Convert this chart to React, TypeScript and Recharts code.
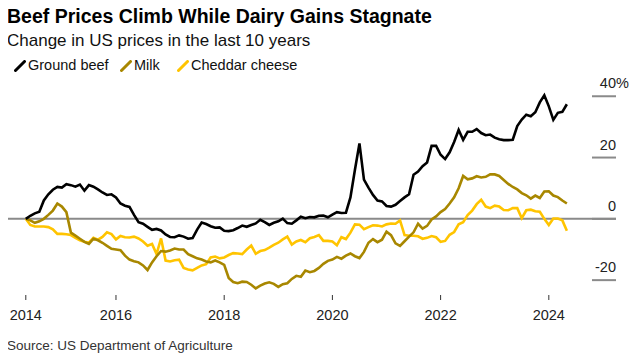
import { LineChart, Line, XAxis, YAxis, ReferenceLine } from 'recharts';

// monthly % change since May 2014 (May 2014 .. May 2024)
const groundBeef = [
  0, 1, 1.8, 2.3, 6, 8, 9.5, 10.4, 10.2, 11.3, 11, 10.5, 11.2, 9.2, 11, 10.5, 9.6, 8.6, 7.8, 8,
  7, 5, 4.3, 3.9, 1.3, -1.1, -1.6, -2.6, -3.6, -3.3, -3.8, -5.1, -5.9, -6, -5.4, -5.8, -6.5, -6.3, -3.5, -1.2,
  -1.7, -2.4, -2.9, -2.8, -3.9, -4, -3.7, -3, -2.2, -2.6, -2, -1.5, -0.3, -1.1, -2, -1.3, -0.8, 0.1, -1.4, -1.6,
  -0.5, 0.7, 0.2, 0.6, 0.5, 1, 1.1, 0.5, 1.4, 2.2, 1.9, 2, 7, 16, 24.6, 12.8, 10.2, 7.8, 6, 5.7,
  4.2, 4, 4.6, 5.8, 7, 8, 14.4, 15.4, 17.2, 18.4, 23.8, 23.8, 20.9, 19.5, 21.7, 25.1, 29, 25.8, 28.4, 28.4,
  29.3, 28, 27.3, 27.5, 26.5, 26, 25.7, 25.7, 25.8, 30.3, 32.4, 34, 33.5, 34.8, 38, 40.3, 36.7, 32.3, 34.6, 34.9,
  37.4,
];

const milk = [
  0, -0.5, -1.3, -0.8, 0, 1.3, 2.7, 5, 4, 2.2, -4.5, -5.5, -6.5, -7.5, -8.2, -6.5, -7, -7.8, -8.8, -9.8,
  -10, -10.2, -12, -13.3, -13.8, -14.2, -15.2, -16.7, -14.2, -12.2, -10.5, -10.7, -10.3, -9.7, -10, -10, -11.5, -12.2, -12.9, -13.3,
  -13.9, -14.2, -13.6, -14.2, -15, -19.3, -20.6, -21, -20.5, -20.6, -21.5, -22.7, -21.8, -21.1, -20.7, -21.2, -22.2, -21.3, -21, -19.6,
  -18.6, -18.9, -16.9, -17.4, -17, -16, -14.7, -13.7, -13.3, -12.4, -13, -12, -11.3, -12.2, -12.8, -10.8, -7.8, -6.6, -7.6, -6.8,
  -4.2, -5.3, -8, -8.8, -7.3, -5.8, -4.4, -1.6, -3.2, -2.3, -0.2, 0.8, 2.2, 3.2, 5, 7, 10, 14, 12.9, 13.2,
  13.9, 13.5, 13.7, 14.5, 14.5, 14, 12.7, 11.4, 10.4, 9.6, 8.4, 7.7, 6.6, 7.6, 6.8, 8.9, 9, 7.6, 7.1, 6,
  5,
];

const cheddarCheese = [
  0, -2, -2.5, -2.5, -2.5, -2.7, -3.4, -4.9, -4.9, -5, -5.3, -6.2, -7, -7.5, -7.8, -6.2, -6.8, -5.9, -4.4, -5,
  -6.7, -5.6, -6, -6.1, -5.8, -6.4, -7.4, -8.8, -8.2, -11.5, -6.4, -13.6, -13.9, -13.5, -13.3, -16, -16.5, -16.8, -16, -15.2,
  -14.8, -12.6, -12.3, -12.9, -12.6, -11.8, -11.2, -11.3, -11.5, -10, -8.7, -11.4, -10.5, -10.2, -9.4, -8.5, -7.8, -6.7, -5.8, -8.4,
  -7.4, -6.9, -7.6, -6.3, -5.9, -5.3, -7.2, -7.2, -7.4, -8.6, -6, -6.6, -4.5, -1.8, -1.9, -3.4, -2.7, -2.1, -2.2, -2.5,
  -1.8, -1.5, -1.6, -0.5, -5.3, -5.5, -5.5, -5.7, -6.5, -6.2, -5.6, -6, -7.5, -7.2, -5.2, -4.3, -1.8, -1.1, 1.2, 2.7,
  4.8, 6.2, 4, 3.5, 4.3, 4, 2.9, 2.8, 3.5, 3.5, 0.2, 2.8, 3, 2.5, 2.3, 0, -2, 0.1, 0.1, -0.5,
  -3.9,
];

// month index of each year tick (index 0 = May 2014)
const xTicks = [0, 20, 44, 68, 92, 116];
const xTickLabels = ['2014', '2016', '2018', '2020', '2022', '2024'];
const yTicks = [-20, 0, 20, 40];

const data = groundBeef.map((v, i) => ({
  month: i,
  beef: v,
  milk: milk[i],
  cheddar: cheddarCheese[i],
}));

const BEEF = '#000000';
const MILK = '#a88700';
const CHEDDAR = '#ffc400';

const W = 639;
const H = 361;
const margin = { top: 84, right: 23, bottom: 36, left: 7 };
const FONT = "'Liberation Sans', Arial, Helvetica, sans-serif";

function YTick(props: any) {
  const { y, payload } = props;
  const right = W - margin.right;
  const v = payload.value;
  return (
    <g>
      <line x1={right - 24} x2={right} y1={y} y2={y} stroke="#8a8a8a" strokeWidth={2} />
      <text x={right} y={y - 8} textAnchor="end" fontSize={14.5} fill="#222">
        {String(v)}
      </text>
      {v === 40 && (
        <text x={right} y={y - 8} textAnchor="start" fontSize={14.5} fill="#222">%</text>
      )}
    </g>
  );
}

function Slash({ color }: { color: string }) {
  return (
    <svg width={12} height={12} style={{ position: 'absolute', top: 0, left: 0 }}>
      <line x1={1.5} y1={10.5} x2={10.5} y2={1.5} stroke={color} strokeWidth={3} strokeLinecap="round" />
    </svg>
  );
}

const legendItems = [
  { label: 'Ground beef', color: BEEF, left: 14 },
  { label: 'Milk', color: MILK, left: 120 },
  { label: 'Cheddar cheese', color: CHEDDAR, left: 177 },
];

export default function App() {
  return (
    <div style={{ position: 'relative', width: W, height: H, margin: -8, fontFamily: FONT, background: '#fff', overflow: 'hidden' }}>
      <div style={{ position: 'absolute', left: 7, top: 7, fontSize: 19.5, lineHeight: 1, fontWeight: 700, color: '#000', whiteSpace: 'nowrap' }}>
        Beef Prices Climb While Dairy Gains Stagnate
      </div>
      <div style={{ position: 'absolute', left: 7, top: 32, fontSize: 17, lineHeight: 1, color: '#111', whiteSpace: 'nowrap' }}>
        Change in US prices in the last 10 years
      </div>
      {legendItems.map((it) => (
        <div key={it.label} style={{ position: 'absolute', left: it.left, top: 58, height: 16, whiteSpace: 'nowrap' }}>
          <div style={{ position: 'absolute', left: 0, top: 2 }}>
            <Slash color={it.color} />
          </div>
          <span style={{ position: 'absolute', left: 14, top: 0, fontSize: 14.5, lineHeight: 1, color: '#111' }}>{it.label}</span>
        </div>
      ))}

      <div style={{ position: 'absolute', left: 0, top: 0 }}>
        <LineChart width={W} height={H} data={data} margin={margin}>
          <XAxis
            dataKey="month"
            type="number"
            domain={[-4.17, 130.9]}
            allowDataOverflow
            ticks={xTicks}
            tickFormatter={(v: number) => xTickLabels[xTicks.indexOf(v)]}
            axisLine={false}
            tickLine={{ stroke: '#333', strokeWidth: 1 }}
            tickSize={5}
            tickMargin={10}
            height={30}
            tick={{ fontSize: 14.5, fill: '#222' }}
            interval={0}
          />
          <YAxis
            type="number"
            domain={[-24.85, 44]}
            allowDataOverflow
            orientation="right"
            mirror
            ticks={yTicks}
            tick={<YTick />}
            axisLine={false}
            tickLine={false}
            interval={0}
          />
          <ReferenceLine y={0} stroke="#8a8a8a" strokeWidth={2} />
          <Line type="linear" dataKey="cheddar" stroke={CHEDDAR} strokeWidth={2.6} dot={false} isAnimationActive={false} />
          <Line type="linear" dataKey="milk" stroke={MILK} strokeWidth={2.6} dot={false} isAnimationActive={false} />
          <Line type="linear" dataKey="beef" stroke={BEEF} strokeWidth={2.6} dot={false} isAnimationActive={false} />
        </LineChart>
      </div>

      <div style={{ position: 'absolute', left: 7, top: 339, fontSize: 13.5, lineHeight: 1, color: '#333', whiteSpace: 'nowrap' }}>
        Source: US Department of Agriculture
      </div>
    </div>
  );
}
